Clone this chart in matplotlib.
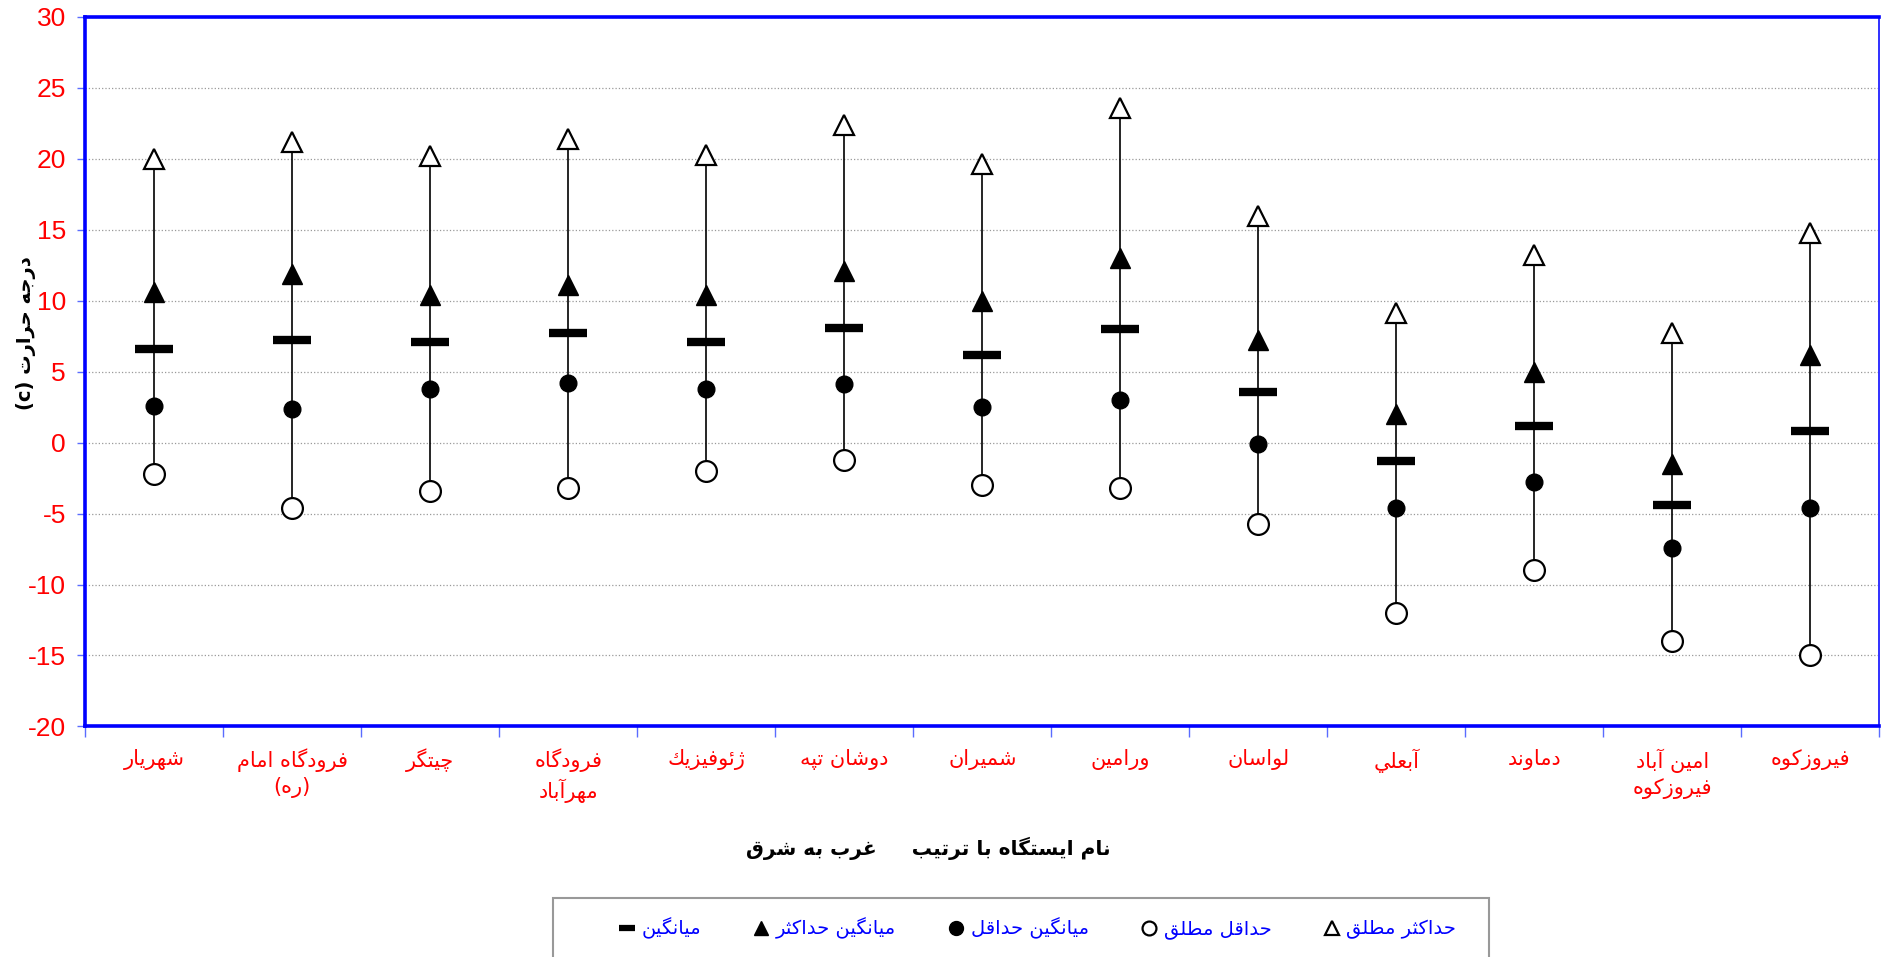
import matplotlib
matplotlib.use("Agg")
import matplotlib.pyplot as plt
from matplotlib.lines import Line2D
from matplotlib.patches import Rectangle
import numpy as np

plt.rcParams['font.family'] = ['Liberation Sans', 'DejaVu Sans']
plt.rcParams['axes.unicode_minus'] = False

# stations, west to east
stations = ['شهریار', 'فرودگاه امام\n(ره)', 'چیتگر', 'فرودگاه\nمهرآباد', 'ژئوفيزيك',
            'دوشان تپه', 'شمیران', 'ورامین', 'لواسان', 'آبعلي', 'دماوند',
            'امین آباد\nفیروزکوه', 'فیروزکوه']
abs_max = [20.0, 21.2, 20.2, 21.4, 20.3, 22.4, 19.6, 23.6, 16.0, 9.1, 13.2, 7.75, 14.8]
mean_max = [10.6, 11.9, 10.4, 11.1, 10.4, 12.1, 10.0, 13.0, 7.25, 2.0, 5.0, -1.5, 6.15]
mean = [6.6, 7.2, 7.1, 7.75, 7.1, 8.1, 6.2, 8.0, 3.6, -1.3, 1.15, -4.4, 0.8]
mean_min = [2.6, 2.4, 3.8, 4.2, 3.8, 4.1, 2.5, 3.0, -0.1, -4.6, -2.8, -7.4, -4.6]
abs_min = [-2.2, -4.6, -3.4, -3.2, -2.0, -1.2, -3.0, -3.2, -5.7, -12.0, -9.0, -14.0, -15.0]

legend_labels = ['میانگین', 'میانگین حداکثر', 'میانگین حداقل', 'حداقل مطلق', 'حداکثر مطلق']
xlabel = 'نام ایستگاه با ترتیب     غرب به شرق'
ylabel = 'درجه حرارت'

# --- minimal arabic/persian shaping (no arabic_reshaper available) ---
# (isolated, final, initial, medial)
FORMS = {
    'ا': (0xFE8D, 0xFE8E, None, None), 'آ': (0xFE81, 0xFE82, None, None),
    'ب': (0xFE8F, 0xFE90, 0xFE91, 0xFE92), 'ت': (0xFE95, 0xFE96, 0xFE97, 0xFE98),
    'ث': (0xFE99, 0xFE9A, 0xFE9B, 0xFE9C), 'ج': (0xFE9D, 0xFE9E, 0xFE9F, 0xFEA0),
    'ح': (0xFEA1, 0xFEA2, 0xFEA3, 0xFEA4), 'خ': (0xFEA5, 0xFEA6, 0xFEA7, 0xFEA8),
    'د': (0xFEA9, 0xFEAA, None, None), 'ذ': (0xFEAB, 0xFEAC, None, None),
    'ر': (0xFEAD, 0xFEAE, None, None), 'ز': (0xFEAF, 0xFEB0, None, None),
    'ژ': (0xFB8A, 0xFB8B, None, None), 'و': (0xFEED, 0xFEEE, None, None),
    'س': (0xFEB1, 0xFEB2, 0xFEB3, 0xFEB4), 'ش': (0xFEB5, 0xFEB6, 0xFEB7, 0xFEB8),
    'ص': (0xFEB9, 0xFEBA, 0xFEBB, 0xFEBC), 'ض': (0xFEBD, 0xFEBE, 0xFEBF, 0xFEC0),
    'ط': (0xFEC1, 0xFEC2, 0xFEC3, 0xFEC4), 'ظ': (0xFEC5, 0xFEC6, 0xFEC7, 0xFEC8),
    'ع': (0xFEC9, 0xFECA, 0xFECB, 0xFECC), 'غ': (0xFECD, 0xFECE, 0xFECF, 0xFED0),
    'ف': (0xFED1, 0xFED2, 0xFED3, 0xFED4), 'ق': (0xFED5, 0xFED6, 0xFED7, 0xFED8),
    'ك': (0xFED9, 0xFEDA, 0xFEDB, 0xFEDC), 'ل': (0xFEDD, 0xFEDE, 0xFEDF, 0xFEE0),
    'م': (0xFEE1, 0xFEE2, 0xFEE3, 0xFEE4), 'ن': (0xFEE5, 0xFEE6, 0xFEE7, 0xFEE8),
    'ه': (0xFEE9, 0xFEEA, 0xFEEB, 0xFEEC), 'ي': (0xFEF1, 0xFEF2, 0xFEF3, 0xFEF4),
    'ئ': (0xFE89, 0xFE8A, 0xFE8B, 0xFE8C), 'پ': (0xFB56, 0xFB57, 0xFB58, 0xFB59),
    'چ': (0xFB7A, 0xFB7B, 0xFB7C, 0xFB7D), 'ک': (0xFB8E, 0xFB8F, 0xFB90, 0xFB91),
    'گ': (0xFB92, 0xFB93, 0xFB94, 0xFB95), 'ی': (0xFBFC, 0xFBFD, 0xFBFE, 0xFBFF),
}
MIRROR = {'(': ')', ')': '('}


def dual(c):
    return c in FORMS and FORMS[c][2] is not None


def shape_line(s):
    out = []
    for i, c in enumerate(s):
        if c not in FORMS:
            out.append(MIRROR.get(c, c))
            continue
        prev = s[i - 1] if i > 0 else ''
        nxt = s[i + 1] if i + 1 < len(s) else ''
        jp = dual(prev)
        jn = dual(c) and nxt in FORMS
        iso, fin, ini, med = FORMS[c]
        if jp and jn:
            code = med
        elif jp:
            code = fin
        elif jn:
            code = ini
        else:
            code = iso
        out.append(chr(code))
    return ''.join(out[::-1])


def fa(s):
    return '\n'.join(shape_line(line) for line in s.split('\n'))


fig = plt.figure(figsize=(18.83, 9.57), dpi=100)
ax = fig.add_axes([0.0453, 0.2409, 0.9528, 0.7415])

x = np.arange(len(stations))
ax.vlines(x, abs_min, abs_max, color='black', lw=1.2, zorder=2)
ax.plot(x, abs_max, ls='none', marker='^', ms=15, mfc='white', mec='black', mew=1.6, zorder=3)
ax.plot(x, mean_max, ls='none', marker='^', ms=15, mfc='black', mec='black', zorder=3)
ax.plot(x, mean, ls='none', marker='_', ms=27, mec='black', mew=6, zorder=3)
ax.plot(x, mean_min, ls='none', marker='o', ms=12, mfc='black', mec='black', zorder=3)
ax.plot(x, abs_min, ls='none', marker='o', ms=15, mfc='white', mec='black', mew=1.6, zorder=3)

ax.set_xlim(-0.5, len(stations) - 0.5)
ax.set_ylim(-20, 30)
ax.set_yticks(np.arange(-20, 31, 5))
ax.yaxis.grid(True, color='#999999', ls=':', lw=0.9)
ax.set_axisbelow(True)

ax.set_xticks(x)
ax.set_xticklabels([fa(s) for s in stations], color='red', fontsize=15,
                   family=['DejaVu Sans'], linespacing=1.3)
ax.set_xticks(np.arange(-0.5, len(stations), 1), minor=True)
ax.tick_params(axis='x', which='major', length=0, pad=16)
ax.tick_params(axis='x', which='minor', length=8, color='#5a6cff', width=1)
ax.tick_params(axis='y', length=6, color='#5a6cff', width=1, labelcolor='red',
               labelsize=19, pad=8)

for side in ['left', 'bottom', 'top']:
    ax.spines[side].set_color('#0000ff')
    ax.spines[side].set_linewidth(2.6)
ax.spines['right'].set_color('#3030ff')
ax.spines['right'].set_linewidth(1.4)

fig.text(0.493, 0.113, fa(xlabel), fontsize=14.5, fontweight='bold',
         family=['DejaVu Sans'], ha='center', va='center')
fig.text(0.014, 0.652, '(c) ' + fa(ylabel), rotation=90, fontsize=14, fontweight='bold',
         family=['DejaVu Sans'], ha='center', va='center')

# legend frame extends past the figure bottom
fig.patches.append(Rectangle((0.2937, -0.05), 0.4971, 0.1116, transform=fig.transFigure,
                             fill=False, edgecolor='#999999', lw=1.5))
handles = [
    Line2D([], [], ls='none', marker='_', ms=12, mec='black', mew=4.5),
    Line2D([], [], ls='none', marker='^', ms=10, mfc='black', mec='black'),
    Line2D([], [], ls='none', marker='o', ms=10, mfc='black', mec='black'),
    Line2D([], [], ls='none', marker='o', ms=10, mfc='white', mec='black', mew=1.6),
    Line2D([], [], ls='none', marker='^', ms=10, mfc='white', mec='black', mew=1.6),
]
leg = fig.legend(handles, [fa(s) for s in legend_labels], loc='center', ncol=5,
                 bbox_to_anchor=(0.551, 0.03), frameon=False,
                 handlelength=0.8, handletextpad=0.35, columnspacing=2.7,
                 prop={'family': ['DejaVu Sans'], 'size': 14})
for t in leg.get_texts():
    t.set_color('#0000ff')

fig.savefig('out.png', dpi=100)
